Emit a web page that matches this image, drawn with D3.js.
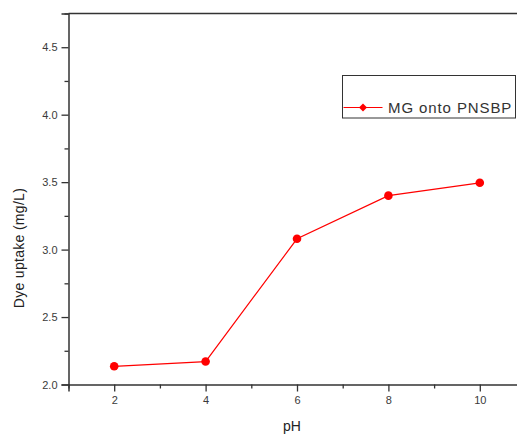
<!DOCTYPE html>
<html>
<head>
<meta charset="utf-8">
<script src="https://cdn.jsdelivr.net/npm/d3@7"></script>
<style>
  html, body { margin: 0; padding: 0; background: #fff; }
  svg { display: block; }
  text { font-family: Arial, "Liberation Sans", sans-serif; }
</style>
</head>
<body>
<svg id="chart" width="517" height="436"></svg>
<script>
// pH values and measured dye uptake (mg/L)
const pH = [2, 4, 6, 8, 10];
const uptake = [2.135, 2.17, 3.08, 3.40, 3.495];
const seriesName = "MG onto PNSBP";
const xTicks = [2, 4, 6, 8, 10];
const xMinorTicks = [1, 3, 5, 7, 9];
const yTicks = [2.0, 2.5, 3.0, 3.5, 4.0, 4.5];
const yMinorTicks = [2.25, 2.75, 3.25, 3.75, 4.25, 4.75];

(function draw() {
  const svg = d3.select("#chart");
  const plotLeft = 68.5, plotTop = 13.5, plotBottom = 384.5, plotRight = 525.5;

  const x = d3.scaleLinear().domain([1, 11]).range([plotLeft, plotRight]);
  const y = d3.scaleLinear().domain([2.0, 4.75]).range([plotBottom, plotTop]);

  const axisColor = "#333";
  const labelColor = "#3a3a3a";

  // frame: top and right edges
  svg.append("line").attr("x1", plotLeft).attr("x2", plotRight).attr("y1", plotTop).attr("y2", plotTop)
    .attr("stroke", axisColor).attr("stroke-width", 1.5);
  svg.append("line").attr("x1", plotRight).attr("x2", plotRight).attr("y1", plotTop).attr("y2", plotBottom)
    .attr("stroke", axisColor).attr("stroke-width", 1.5);

  // x axis
  svg.append("g").attr("transform", `translate(0,${plotBottom})`)
    .call(d3.axisBottom(x).tickValues(xTicks).tickFormat(d3.format("d")).tickSize(7).tickPadding(5));
  svg.append("g").attr("transform", `translate(0,${plotBottom})`)
    .call(d3.axisBottom(x).tickValues(xMinorTicks).tickFormat("").tickSize(4))
    .select(".domain").remove();

  // y axis
  svg.append("g").attr("transform", `translate(${plotLeft},0)`)
    .call(d3.axisLeft(y).tickValues(yTicks).tickFormat(d3.format(".1f")).tickSize(7).tickPadding(4));
  svg.append("g").attr("transform", `translate(${plotLeft},0)`)
    .call(d3.axisLeft(y).tickValues(yMinorTicks).tickFormat("").tickSize(4))
    .select(".domain").remove();

  svg.selectAll(".domain").attr("stroke", axisColor).attr("stroke-width", 1.5);
  svg.selectAll(".tick line").attr("stroke", axisColor).attr("stroke-width", 1.3);
  svg.selectAll(".tick text").attr("fill", labelColor).style("font-size", "11px")
    .style("font-family", "Arial, 'Liberation Sans', sans-serif");

  // axis titles
  svg.append("text").attr("x", 292).attr("y", 431).attr("text-anchor", "middle")
    .attr("fill", "#222").style("font-size", "14px").text("pH");
  svg.append("text").attr("transform", "translate(24,248) rotate(-90)").attr("text-anchor", "middle")
    .attr("fill", "#222").style("font-size", "14px").style("letter-spacing", "0.3px")
    .text("Dye uptake (mg/L)");

  // data series
  const data = pH.map((p, i) => ({ p, v: uptake[i] }));
  const red = "#ff0000";
  svg.append("path").datum(data)
    .attr("fill", "none").attr("stroke", red).attr("stroke-width", 1.2)
    .attr("d", d3.line().x(d => x(d.p)).y(d => y(d.v)));
  svg.selectAll(".pt").data(data).enter().append("circle")
    .attr("cx", d => x(d.p)).attr("cy", d => y(d.v)).attr("r", 4.3).attr("fill", red);

  // legend
  const lg = svg.append("g");
  lg.append("rect").attr("x", 342.5).attr("y", 75.5).attr("width", 173).attr("height", 42.5)
    .attr("fill", "#fff").attr("stroke", "#333").attr("stroke-width", 1);
  lg.append("line").attr("x1", 343.5).attr("x2", 382.5).attr("y1", 107.5).attr("y2", 107.5)
    .attr("stroke", red).attr("stroke-width", 1.2);
  lg.append("path").attr("d", "M0,-4L4,0L0,4L-4,0Z")
    .attr("transform", "translate(363,107.5)").attr("fill", red);
  lg.append("text").attr("x", 388).attr("y", 113).attr("fill", "#333")
    .style("font-size", "15px").style("letter-spacing", "0.9px").text(seriesName);
})();
</script>
</body>
</html>
